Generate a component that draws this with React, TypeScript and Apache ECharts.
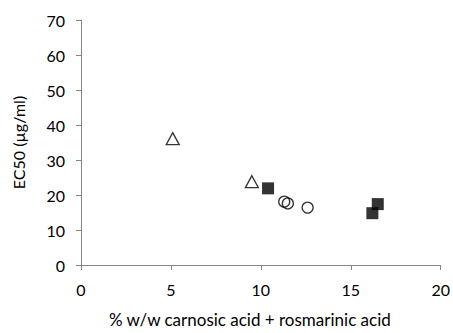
import React, { useEffect, useRef } from "react";
import * as echarts from "echarts";

const triangles: [number, number][] = [
  [5.1, 36.1],
  [9.5, 23.8],
];
const squares: [number, number][] = [
  [10.4, 21.9],
  [16.5, 17.4],
  [16.2, 14.8],
];
const circles: [number, number][] = [
  [11.3, 18.1],
  [11.5, 17.6],
  [12.6, 16.4],
];
const xTicks = { min: 0, max: 20, interval: 5 };
const yTicks = { min: 0, max: 70, interval: 10 };

const FONT = "Lato, 'Open Sans', sans-serif";

export default function App() {
  const ref = useRef<HTMLDivElement>(null);
  useEffect(() => {
    const chart = echarts.init(ref.current!, null, { renderer: "svg" });
    const axisLine = { show: true, lineStyle: { color: "#868686", width: 1 } };
    const axisTick = { show: true, length: 5, lineStyle: { color: "#868686", width: 1 } };
    chart.setOption({
      animation: false,
      backgroundColor: "#fff",
      grid: { left: 81, right: 11, top: 20, bottom: 66 },
      xAxis: {
        type: "value",
        ...xTicks,
        name: "% w/w carnosic acid + rosmarinic acid",
        nameLocation: "middle",
        nameGap: 46,
        nameTextStyle: {
          fontFamily: FONT,
          fontSize: 17,
          color: "#000",
          verticalAlign: "top",
          padding: [0, 22, 0, 0],
        },
        axisLine,
        axisTick,
        axisLabel: { fontFamily: FONT, fontSize: 16, color: "#000", margin: 16 },
        splitLine: { show: false },
      },
      yAxis: {
        type: "value",
        ...yTicks,
        name: "EC50 (µg/ml)",
        nameLocation: "middle",
        nameGap: 55,
        nameTextStyle: { fontFamily: FONT, fontSize: 16, color: "#000" },
        axisLine,
        axisTick,
        axisLabel: { fontFamily: FONT, fontSize: 16, color: "#000", margin: 16 },
        splitLine: { show: false },
      },
      series: [
        {
          type: "scatter",
          data: triangles,
          symbol: "triangle",
          symbolSize: [13, 12],
          itemStyle: { color: "#fff", borderColor: "#000", borderWidth: 1.3 },
        },
        {
          type: "scatter",
          data: squares,
          symbol: "rect",
          symbolSize: 12,
          itemStyle: { color: "#000", borderColor: "#000", borderWidth: 0 },
        },
        {
          type: "scatter",
          data: circles,
          symbol: "circle",
          symbolSize: 11,
          itemStyle: { color: "rgba(255,255,255,0)", borderColor: "#000", borderWidth: 1.3 },
        },
      ],
    });
    return () => chart.dispose();
  }, []);
  return <div ref={ref} style={{ width: 453, height: 333, position: "absolute", left: 0, top: 0 }} />;
}
